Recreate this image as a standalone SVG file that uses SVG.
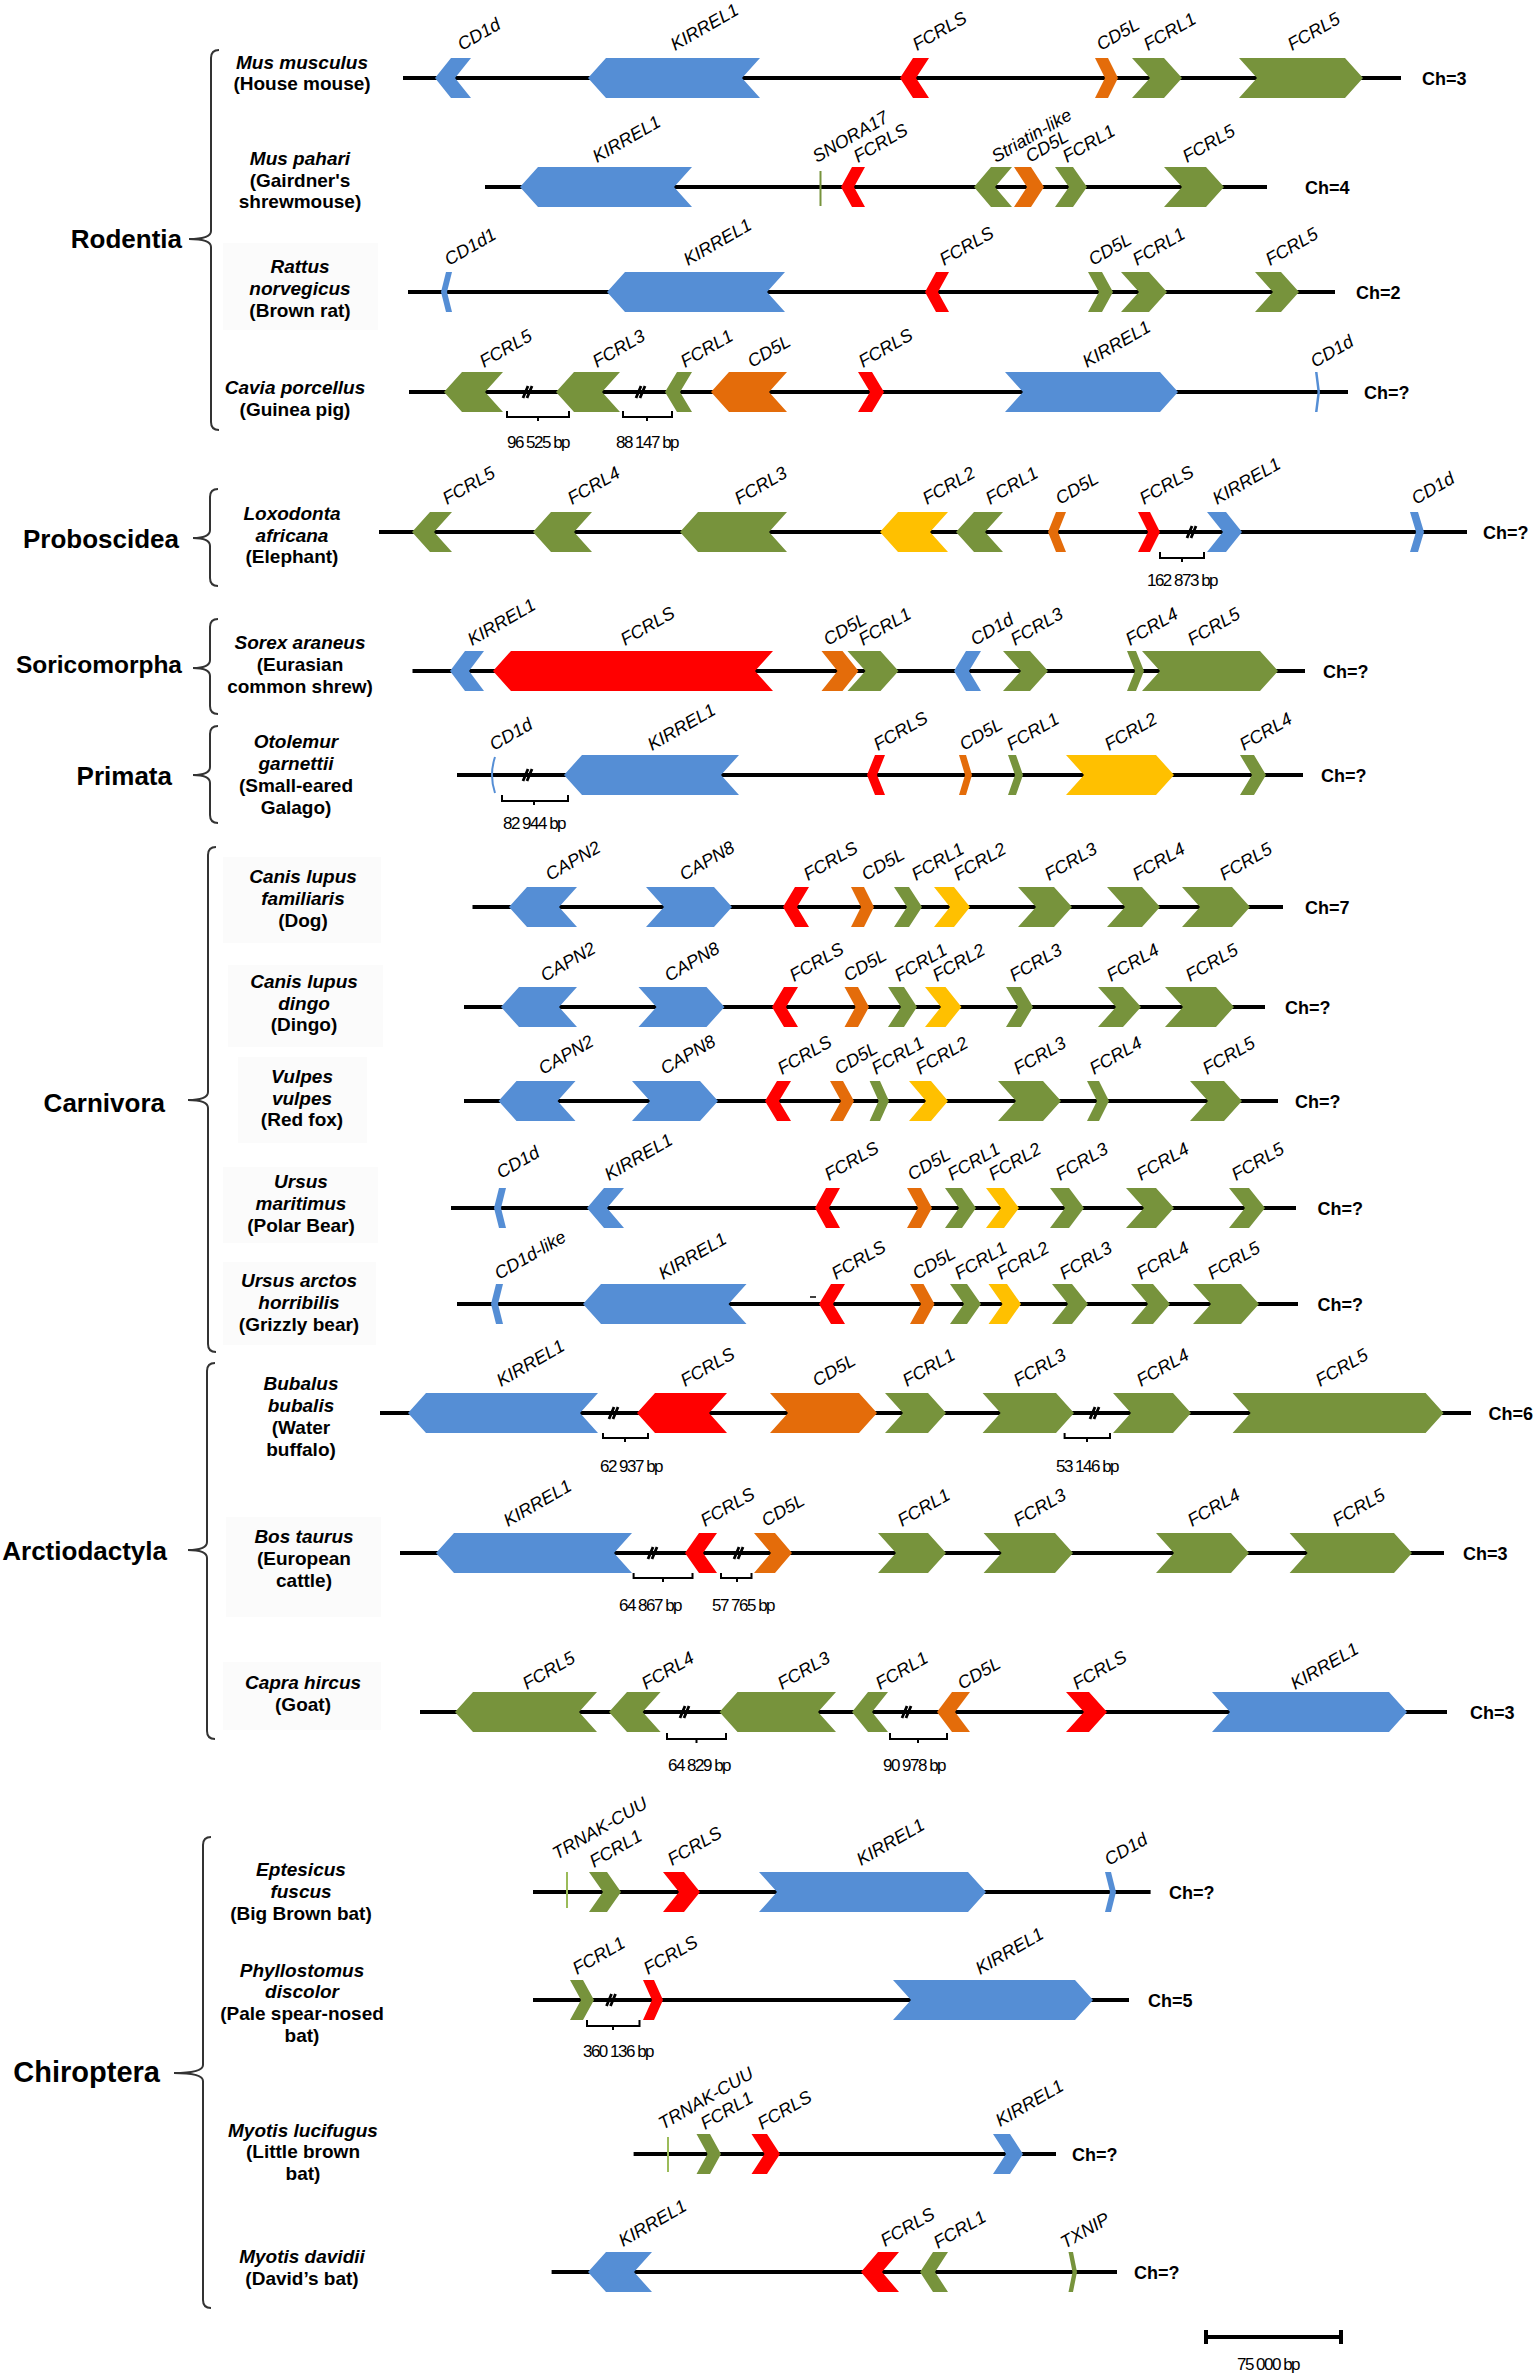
<svg xmlns="http://www.w3.org/2000/svg" width="1535" height="2373" viewBox="0 0 1535 2373">
<style>
.ln{stroke:#000;stroke-width:4;fill:none}
.b{fill:#558ED5}.r{fill:#FF0000}.g{fill:#77933C}.o{fill:#E46C0A}.y{fill:#FFC000}
.gl{font-family:'Liberation Sans',Arial,sans-serif;font-style:italic;font-size:18px;fill:#000}
.sp{font-family:'Liberation Sans',Arial,sans-serif;font-weight:bold;font-size:19px;text-anchor:middle;fill:#000}
.it{font-style:italic}
.ch{font-family:'Liberation Sans',Arial,sans-serif;font-weight:bold;font-size:18px;fill:#000}
.grp{font-family:'Liberation Sans',Arial,sans-serif;font-weight:bold;font-size:26px;text-anchor:end;fill:#000}
.bp{font-family:'Liberation Sans',Arial,sans-serif;font-size:17px;letter-spacing:-1.5px;text-anchor:middle;fill:#000}
.brk{fill:none;stroke:#000;stroke-width:2}
.brace{fill:none;stroke:#333;stroke-width:2}
.box{fill:#fbfbfb}
.thin{fill:none;stroke-width:2}
</style>
<defs>
<path id="slash" d="M-5 6L0-6M-1 6L4-6" fill="none" stroke="#000" stroke-width="2.8"/>
</defs>
<rect width="1535" height="2373" fill="#fff"/>

<g id="species-boxes">
<rect class="box" x="223" y="243" width="155" height="87"/>
<rect class="box" x="223" y="857" width="158" height="86"/>
<rect class="box" x="228" y="965" width="155" height="82"/>
<rect class="box" x="238" y="1057" width="129" height="86"/>
<rect class="box" x="223" y="1167" width="155" height="76"/>
<rect class="box" x="223" y="1262" width="153" height="83"/>
<rect class="box" x="226" y="1517" width="155" height="100"/>
<rect class="box" x="223" y="1662" width="158" height="68"/>
</g>

<g id="connectors">
<path class="ln" d="M403 78H1401M485 187H1267M408 292H1335M409 392H1348M379 532H1467M412.5 671H1305M457 775H1303M472.5 907H1283M464 1007H1265M464 1101H1278M451 1208H1296M457 1304H1298M380 1413H1471M400 1553H1444M420 1712H1447M533 1892H1150.6M533 2000H1129M633.6 2154H1056M551.6 2272H1117"/>
<use href="#slash" transform="translate(528 392)"/>
<use href="#slash" transform="translate(641 392)"/>
<use href="#slash" transform="translate(1192 532)"/>
<use href="#slash" transform="translate(528 775)"/>
<use href="#slash" transform="translate(614 1413)"/>
<use href="#slash" transform="translate(1095 1413)"/>
<use href="#slash" transform="translate(653 1553)"/>
<use href="#slash" transform="translate(739 1553)"/>
<use href="#slash" transform="translate(685 1712)"/>
<use href="#slash" transform="translate(907 1712)"/>
<use href="#slash" transform="translate(611.5 2000)"/>
<path class="brk" d="M507 411V417H569V411M538 417V421M623 411V417H672V411M647 417V421M1160 552V558H1204V552M1182 558V562M502 795V801H568V795M534 801V805M603 1433V1438H648V1433M625 1438V1442M1064.6 1433V1438H1110V1433M1087 1438V1442M633.6 1573V1578H692.5V1573M663 1578V1582M721 1573V1578H751.5V1573M737 1578V1582M667 1733V1739H726V1733M696.5 1739V1743M890 1733V1739H947V1733M918 1739V1743M587 2020V2026H639.5V2020M613 2026V2030"/>
<text class="bp" x="538" y="448">96 525 bp</text>
<text class="bp" x="647" y="448">88 147 bp</text>
<text class="bp" x="1182" y="586">162 873 bp</text>
<text class="bp" x="534" y="829">82 944 bp</text>
<text class="bp" x="631" y="1472">62 937 bp</text>
<text class="bp" x="1087" y="1472">53 146 bp</text>
<text class="bp" x="650" y="1611">64 867 bp</text>
<text class="bp" x="743" y="1611">57 765 bp</text>
<text class="bp" x="699" y="1771">64 829 bp</text>
<text class="bp" x="914" y="1771">90 978 bp</text>
<text class="bp" x="618" y="2057">360 136 bp</text>
</g>

<g id="groups">
<g id="grp-rodentia"><path class="brace" d="M219 50Q211 50 211 58V231Q211 239 189 239Q211 239 211 247V422Q211 430 219 430"/><text class="grp" x="182" y="248">Rodentia</text></g>
<g id="grp-proboscidea"><path class="brace" d="M218 489Q210 489 210 497V530Q210 538 193 538Q210 538 210 546V578Q210 586 218 586"/><text class="grp" x="179" y="548">Proboscidea</text></g>
<g id="grp-soricomorpha"><path class="brace" d="M218 619Q210 619 210 627V660Q210 668 193 668Q210 668 210 676V706Q210 714 218 714"/><text class="grp" x="182" y="673" style="font-size:24.5px">Soricomorpha</text></g>
<g id="grp-primata"><path class="brace" d="M218 726Q210 726 210 734V767Q210 775 193 775Q210 775 210 783V815Q210 823 218 823"/><text class="grp" x="172" y="785">Primata</text></g>
<g id="grp-carnivora"><path class="brace" d="M216 847Q208 847 208 855V1092Q208 1100 188 1100Q208 1100 208 1108V1344Q208 1352 216 1352"/><text class="grp" x="165" y="1112">Carnivora</text></g>
<g id="grp-arctiodactyla"><path class="brace" d="M215 1363Q207 1363 207 1371V1542Q207 1550 188 1550Q207 1550 207 1558V1731Q207 1739 215 1739"/><text class="grp" x="167" y="1560">Arctiodactyla</text></g>
<g id="grp-chiroptera"><path class="brace" d="M211 1837Q203 1837 203 1845V2065Q203 2073 174 2073Q203 2073 203 2081V2300Q203 2308 211 2308"/><text class="grp" x="160" y="2082" style="font-size:29px">Chiroptera</text></g>
</g>

<g id="row1">
<text class="sp" x="302"><tspan class="it" x="302" y="69">Mus musculus</tspan><tspan x="302" y="90">(House mouse)</tspan></text>
<g id="r1-cd1d"><path class="b" d="M435 78l16-20h20l-16 20l16 20h-20z"/><text class="gl" transform="translate(462 51) rotate(-30)">CD1d</text></g>
<g id="r1-kirrel1"><path class="b" d="M588 78l18-20h154l-18 20l18 20h-154z"/><text class="gl" transform="translate(675 51) rotate(-30)">KIRREL1</text></g>
<g id="r1-fcrls"><path class="r" d="M900 78l13-20h16l-13 20l13 20h-16z"/><text class="gl" transform="translate(917 51) rotate(-30)">FCRLS</text></g>
<g id="r1-cd5l"><path class="o" d="M1095 58h13l10 20l-10 20h-13l10-20z"/><text class="gl" transform="translate(1101 51) rotate(-30)">CD5L</text></g>
<g id="r1-fcrl1"><path class="g" d="M1132 58h32l18 20l-18 20h-32l18-20z"/><text class="gl" transform="translate(1148 51) rotate(-30)">FCRL1</text></g>
<g id="r1-fcrl5"><path class="g" d="M1239 58h106l18 20l-18 20h-106l18-20z"/><text class="gl" transform="translate(1292 51) rotate(-30)">FCRL5</text></g>
<text class="ch" x="1422" y="85">Ch=3</text>
</g>

<g id="row2">
<text class="sp"><tspan class="it" x="300" y="165">Mus pahari</tspan><tspan x="300" y="187">(Gairdner's</tspan><tspan x="300" y="208">shrewmouse)</tspan></text>
<g id="r2-kirrel1"><path class="b" d="M520 187l18-20h154l-18 20l18 20h-154z"/><text class="gl" transform="translate(597 163) rotate(-30)">KIRREL1</text></g>
<g id="r2-snora17"><path class="thin" stroke="#77933C" stroke-width="2.5" d="M820.5 171V206"/><text class="gl" transform="translate(817 163) rotate(-30)">SNORA17</text></g>
<g id="r2-fcrls"><path class="r" d="M841 187l11-20h13l-11 20l11 20h-13z"/><text class="gl" transform="translate(858 163) rotate(-30)">FCRLS</text></g>
<g id="r2-striatin"><path class="g" d="M974 187l17-20h21l-17 20l17 20h-21z"/><text class="gl" transform="translate(996 163) rotate(-30)">Striatin-like</text></g>
<g id="r2-cd5l"><path class="o" d="M1014 167h17l13 20l-13 20h-17l13-20z"/><text class="gl" transform="translate(1030 163) rotate(-30)">CD5L</text></g>
<g id="r2-fcrl1"><path class="g" d="M1055 167h18l14 20l-14 20h-18l14-20z"/><text class="gl" transform="translate(1067 163) rotate(-30)">FCRL1</text></g>
<g id="r2-fcrl5"><path class="g" d="M1164 167h42l18 20l-18 20h-42l18-20z"/><text class="gl" transform="translate(1187 163) rotate(-30)">FCRL5</text></g>
<text class="ch" x="1305" y="194">Ch=4</text>
</g>

<g id="row3">
<text class="sp"><tspan class="it" x="300" y="273">Rattus</tspan><tspan class="it" x="300" y="295">norvegicus</tspan><tspan x="300" y="317">(Brown rat)</tspan></text>
<g id="r3-cd1d1"><path class="b" d="M441 292l5-20h6l-5 20l5 20h-6z"/><text class="gl" transform="translate(449 266) rotate(-30)">CD1d1</text></g>
<g id="r3-kirrel1"><path class="b" d="M607 292l18-20h160l-18 20l18 20h-160z"/><text class="gl" transform="translate(688 266) rotate(-30)">KIRREL1</text></g>
<g id="r3-fcrls"><path class="r" d="M925 292l11-20h13l-11 20l11 20h-13z"/><text class="gl" transform="translate(944 266) rotate(-30)">FCRLS</text></g>
<g id="r3-cd5l"><path class="g" d="M1088 272h14l11 20l-11 20h-14l11-20z"/><text class="gl" transform="translate(1093 266) rotate(-30)">CD5L</text></g>
<g id="r3-fcrl1"><path class="g" d="M1121 272h28l18 20l-18 20h-28l18-20z"/><text class="gl" transform="translate(1137 266) rotate(-30)">FCRL1</text></g>
<g id="r3-fcrl5"><path class="g" d="M1255 272h26l18 20l-18 20h-26l18-20z"/><text class="gl" transform="translate(1270 266) rotate(-30)">FCRL5</text></g>
<text class="ch" x="1356" y="299">Ch=2</text>
</g>

<g id="row4">
<text class="sp"><tspan class="it" x="295" y="394">Cavia porcellus</tspan><tspan x="295" y="416">(Guinea pig)</tspan></text>
<g id="r4-fcrl5"><path class="g" d="M444 392l18-20h41l-18 20l18 20h-41z"/><text class="gl" transform="translate(484 368) rotate(-30)">FCRL5</text></g>
<g id="r4-fcrl3"><path class="g" d="M556 392l18-20h46l-18 20l18 20h-46z"/><text class="gl" transform="translate(597 368) rotate(-30)">FCRL3</text></g>
<g id="r4-fcrl1"><path class="g" d="M665 392l12-20h15l-12 20l12 20h-15z"/><text class="gl" transform="translate(685 368) rotate(-30)">FCRL1</text></g>
<g id="r4-cd5l"><path class="o" d="M711 392l18-20h58l-18 20l18 20h-58z"/><text class="gl" transform="translate(752 368) rotate(-30)">CD5L</text></g>
<g id="r4-fcrls"><path class="r" d="M858 372h14l12 20l-12 20h-14l12-20z"/><text class="gl" transform="translate(863 368) rotate(-30)">FCRLS</text></g>
<g id="r4-kirrel1"><path class="b" d="M1005 372h155l18 20l-18 20h-155l18-20z"/><text class="gl" transform="translate(1087 368) rotate(-30)">KIRREL1</text></g>
<g id="r4-cd1d"><path class="b" d="M1315 372h2.5l2.5 20l-2.5 20h-2.5l2.5-20z"/><text class="gl" transform="translate(1315 368) rotate(-30)">CD1d</text></g>
<text class="ch" x="1364" y="399">Ch=?</text>
</g>

<g id="row5">
<text class="sp"><tspan class="it" x="292" y="520">Loxodonta</tspan><tspan class="it" x="292" y="542">africana</tspan><tspan x="292" y="563">(Elephant)</tspan></text>
<g id="r5-fcrl5"><path class="g" d="M412 532l18-20h22l-18 20l18 20h-22z"/><text class="gl" transform="translate(447 505) rotate(-30)">FCRL5</text></g>
<g id="r5-fcrl4"><path class="g" d="M533 532l18-20h41l-18 20l18 20h-41z"/><text class="gl" transform="translate(572 505) rotate(-30)">FCRL4</text></g>
<g id="r5-fcrl3"><path class="g" d="M680 532l18-20h89l-18 20l18 20h-89z"/><text class="gl" transform="translate(739 505) rotate(-30)">FCRL3</text></g>
<g id="r5-fcrl2"><path class="y" d="M880 532l18-20h50l-18 20l18 20h-50z"/><text class="gl" transform="translate(927 505) rotate(-30)">FCRL2</text></g>
<g id="r5-fcrl1"><path class="g" d="M956 532l18-20h29l-18 20l18 20h-29z"/><text class="gl" transform="translate(990 505) rotate(-30)">FCRL1</text></g>
<g id="r5-cd5l"><path class="o" d="M1048 532l8-20h10l-8 20l8 20h-10z"/><text class="gl" transform="translate(1060 505) rotate(-30)">CD5L</text></g>
<g id="r5-fcrls"><path class="r" d="M1138 512h12l10 20l-10 20h-12l10-20z"/><text class="gl" transform="translate(1144 505) rotate(-30)">FCRLS</text></g>
<g id="r5-kirrel1"><path class="b" d="M1207 512h19l16 20l-16 20h-19l16-20z"/><text class="gl" transform="translate(1217 505) rotate(-30)">KIRREL1</text></g>
<g id="r5-cd1d"><path class="b" d="M1410 512h8l6 20l-6 20h-8l6-20z"/><text class="gl" transform="translate(1416 505) rotate(-30)">CD1d</text></g>
<text class="ch" x="1483" y="539">Ch=?</text>
</g>

<g id="row6">
<text class="sp"><tspan class="it" x="300" y="649">Sorex araneus</tspan><tspan x="300" y="671">(Eurasian</tspan><tspan x="300" y="693">common shrew)</tspan></text>
<g id="r6-kirrel1"><path class="b" d="M450 671l15-20h19l-15 20l15 20h-19z"/><text class="gl" transform="translate(472 646) rotate(-30)">KIRREL1</text></g>
<g id="r6-fcrls"><path class="r" d="M493 671l18-20h262l-18 20l18 20h-262z"/><text class="gl" transform="translate(625 646) rotate(-30)">FCRLS</text></g>
<g id="r6-fcrl1"><path class="g" d="M847.5 651h33l18 20l-18 20h-33l18-20z"/><text class="gl" transform="translate(863 646) rotate(-30)">FCRL1</text></g>
<g id="r6-cd5l"><path class="o" d="M821.5 651h21l16 20l-16 20h-21l16-20z"/><text class="gl" transform="translate(828 646) rotate(-30)">CD5L</text></g>
<g id="r6-cd1d"><path class="b" d="M954 671l12-20h15l-12 20l12 20h-15z"/><text class="gl" transform="translate(975 646) rotate(-30)">CD1d</text></g>
<g id="r6-fcrl3"><path class="g" d="M1003 651h27l18 20l-18 20h-27l18-20z"/><text class="gl" transform="translate(1015 646) rotate(-30)">FCRL3</text></g>
<g id="r6-fcrl4"><path class="g" d="M1127 651h9l8 20l-8 20h-9l8-20z"/><text class="gl" transform="translate(1130 646) rotate(-30)">FCRL4</text></g>
<g id="r6-fcrl5"><path class="g" d="M1142 651h118l18 20l-18 20h-118l18-20z"/><text class="gl" transform="translate(1192 646) rotate(-30)">FCRL5</text></g>
<text class="ch" x="1323" y="678">Ch=?</text>
</g>

<g id="row7">
<text class="sp"><tspan class="it" x="296" y="748">Otolemur</tspan><tspan class="it" x="296" y="770">garnettii</tspan><tspan x="296" y="792">(Small-eared</tspan><tspan x="296" y="814">Galago)</tspan></text>
<g id="r7-cd1d"><path class="thin" stroke="#558ED5" d="M495 757Q489 775 495 793"/><text class="gl" transform="translate(494 751) rotate(-30)">CD1d</text></g>
<g id="r7-kirrel1"><path class="b" d="M564 775l18-20h157l-18 20l18 20h-157z"/><text class="gl" transform="translate(652 751) rotate(-30)">KIRREL1</text></g>
<g id="r7-fcrls"><path class="r" d="M867 775l8-20h10l-8 20l8 20h-10z"/><text class="gl" transform="translate(878 751) rotate(-30)">FCRLS</text></g>
<g id="r7-cd5l"><path class="o" d="M959 755h7l6 20l-6 20h-7l6-20z"/><text class="gl" transform="translate(964 751) rotate(-30)">CD5L</text></g>
<g id="r7-fcrl1"><path class="g" d="M1008 755h8l7 20l-7 20h-8l7-20z"/><text class="gl" transform="translate(1011 751) rotate(-30)">FCRL1</text></g>
<g id="r7-fcrl2"><path class="y" d="M1066 755h90l18 20l-18 20h-90l18-20z"/><text class="gl" transform="translate(1109 751) rotate(-30)">FCRL2</text></g>
<g id="r7-fcrl4"><path class="g" d="M1240 755h14l12 20l-12 20h-14l12-20z"/><text class="gl" transform="translate(1244 751) rotate(-30)">FCRL4</text></g>
<text class="ch" x="1321" y="782">Ch=?</text>
</g>

<g id="row8">
<text class="sp"><tspan class="it" x="303" y="883">Canis lupus</tspan><tspan class="it" x="303" y="905">familiaris</tspan><tspan x="303" y="927">(Dog)</tspan></text>
<g id="r8-capn2"><path class="b" d="M509 907l18-20h50l-18 20l18 20h-50z"/><text class="gl" transform="translate(550 881) rotate(-30)">CAPN2</text></g>
<g id="r8-capn8"><path class="b" d="M646 887h68l18 20l-18 20h-68l18-20z"/><text class="gl" transform="translate(684 881) rotate(-30)">CAPN8</text></g>
<g id="r8-fcrls"><path class="r" d="M783 907l12-20h14l-12 20l12 20h-14z"/><text class="gl" transform="translate(808 881) rotate(-30)">FCRLS</text></g>
<g id="r8-cd5l"><path class="o" d="M851 887h13l10 20l-10 20h-13l10-20z"/><text class="gl" transform="translate(866 881) rotate(-30)">CD5L</text></g>
<g id="r8-fcrl1"><path class="g" d="M894 887h15l13 20l-13 20h-15l13-20z"/><text class="gl" transform="translate(916 881) rotate(-30)">FCRL1</text></g>
<g id="r8-fcrl2"><path class="y" d="M934 887h20l16 20l-16 20h-20l16-20z"/><text class="gl" transform="translate(958 881) rotate(-30)">FCRL2</text></g>
<g id="r8-fcrl3"><path class="g" d="M1018 887h36l18 20l-18 20h-36l18-20z"/><text class="gl" transform="translate(1049 881) rotate(-30)">FCRL3</text></g>
<g id="r8-fcrl4"><path class="g" d="M1107 887h35l18 20l-18 20h-35l18-20z"/><text class="gl" transform="translate(1137 881) rotate(-30)">FCRL4</text></g>
<g id="r8-fcrl5"><path class="g" d="M1182 887h50l18 20l-18 20h-50l18-20z"/><text class="gl" transform="translate(1224 881) rotate(-30)">FCRL5</text></g>
<text class="ch" x="1305" y="914">Ch=7</text>
</g>

<g id="row9">
<text class="sp"><tspan class="it" x="304" y="988">Canis lupus</tspan><tspan class="it" x="304" y="1010">dingo</tspan><tspan x="304" y="1031">(Dingo)</tspan></text>
<g id="r9-capn2"><path class="b" d="M501 1007l18-20h58l-18 20l18 20h-58z"/><text class="gl" transform="translate(545 982) rotate(-30)">CAPN2</text></g>
<g id="r9-capn8"><path class="b" d="M638.5 987h68l18 20l-18 20h-68l18-20z"/><text class="gl" transform="translate(669 982) rotate(-30)">CAPN8</text></g>
<g id="r9-fcrls"><path class="r" d="M772 1007l12-20h14l-12 20l12 20h-14z"/><text class="gl" transform="translate(794 982) rotate(-30)">FCRLS</text></g>
<g id="r9-cd5l"><path class="o" d="M844.5 987h13.5l11 20l-11 20h-13.5l11-20z"/><text class="gl" transform="translate(848 982) rotate(-30)">CD5L</text></g>
<g id="r9-fcrl1"><path class="g" d="M888 987h16l13 20l-13 20h-16l13-20z"/><text class="gl" transform="translate(899 982) rotate(-30)">FCRL1</text></g>
<g id="r9-fcrl2"><path class="y" d="M925 987h20.5l16 20l-16 20h-20.5l16-20z"/><text class="gl" transform="translate(937 982) rotate(-30)">FCRL2</text></g>
<g id="r9-fcrl3"><path class="g" d="M1006 987h15l12 20l-12 20h-15l12-20z"/><text class="gl" transform="translate(1014 982) rotate(-30)">FCRL3</text></g>
<g id="r9-fcrl4"><path class="g" d="M1098 987h25l18 20l-18 20h-25l18-20z"/><text class="gl" transform="translate(1111 982) rotate(-30)">FCRL4</text></g>
<g id="r9-fcrl5"><path class="g" d="M1165 987h51l18 20l-18 20h-51l18-20z"/><text class="gl" transform="translate(1190 982) rotate(-30)">FCRL5</text></g>
<text class="ch" x="1285" y="1014">Ch=?</text>
</g>

<g id="row10">
<text class="sp"><tspan class="it" x="302" y="1083">Vulpes</tspan><tspan class="it" x="302" y="1105">vulpes</tspan><tspan x="302" y="1126">(Red fox)</tspan></text>
<g id="r10-capn2"><path class="b" d="M498.5 1101l18-20h59l-18 20l18 20h-59z"/><text class="gl" transform="translate(543 1075) rotate(-30)">CAPN2</text></g>
<g id="r10-capn8"><path class="b" d="M632 1081h68l18 20l-18 20h-68l18-20z"/><text class="gl" transform="translate(665 1075) rotate(-30)">CAPN8</text></g>
<g id="r10-fcrls"><path class="r" d="M765 1101l12-20h14l-12 20l12 20h-14z"/><text class="gl" transform="translate(782 1075) rotate(-30)">FCRLS</text></g>
<g id="r10-cd5l"><path class="o" d="M830 1081h13l11 20l-11 20h-13l11-20z"/><text class="gl" transform="translate(839 1075) rotate(-30)">CD5L</text></g>
<g id="r10-fcrl1"><path class="g" d="M869.6 1081h10.4l9 20l-9 20h-10.4l9-20z"/><text class="gl" transform="translate(876 1075) rotate(-30)">FCRL1</text></g>
<g id="r10-fcrl2"><path class="y" d="M909 1081h22l17 20l-17 20h-22l17-20z"/><text class="gl" transform="translate(920 1075) rotate(-30)">FCRL2</text></g>
<g id="r10-fcrl3"><path class="g" d="M998 1081h45l18 20l-18 20h-45l18-20z"/><text class="gl" transform="translate(1018 1075) rotate(-30)">FCRL3</text></g>
<g id="r10-fcrl4"><path class="g" d="M1087 1081h12l10 20l-10 20h-12l10-20z"/><text class="gl" transform="translate(1094 1075) rotate(-30)">FCRL4</text></g>
<g id="r10-fcrl5"><path class="g" d="M1190 1081h34l18 20l-18 20h-34l18-20z"/><text class="gl" transform="translate(1207 1075) rotate(-30)">FCRL5</text></g>
<text class="ch" x="1295" y="1108">Ch=?</text>
</g>

<g id="row11">
<text class="sp"><tspan class="it" x="301" y="1188">Ursus</tspan><tspan class="it" x="301" y="1210">maritimus</tspan><tspan x="301" y="1232">(Polar Bear)</tspan></text>
<g id="r11-cd1d"><path class="b" d="M494 1208l5-20h7l-5 20l5 20h-7z"/><text class="gl" transform="translate(501 1179) rotate(-30)">CD1d</text></g>
<g id="r11-kirrel1"><path class="b" d="M587 1208l17-20h20l-17 20l17 20h-20z"/><text class="gl" transform="translate(609 1181) rotate(-30)">KIRREL1</text></g>
<g id="r11-fcrls"><path class="r" d="M815 1208l11-20h14l-11 20l11 20h-14z"/><text class="gl" transform="translate(829 1181) rotate(-30)">FCRLS</text></g>
<g id="r11-cd5l"><path class="o" d="M907 1188h14l11 20l-11 20h-14l11-20z"/><text class="gl" transform="translate(912 1181) rotate(-30)">CD5L</text></g>
<g id="r11-fcrl1"><path class="g" d="M945 1188h17l14 20l-14 20h-17l14-20z"/><text class="gl" transform="translate(952 1181) rotate(-30)">FCRL1</text></g>
<g id="r11-fcrl2"><path class="y" d="M986 1188h18l15 20l-15 20h-18l15-20z"/><text class="gl" transform="translate(993 1181) rotate(-30)">FCRL2</text></g>
<g id="r11-fcrl3"><path class="g" d="M1050 1188h19l15 20l-15 20h-19l15-20z"/><text class="gl" transform="translate(1060 1181) rotate(-30)">FCRL3</text></g>
<g id="r11-fcrl4"><path class="g" d="M1126 1188h30l18 20l-18 20h-30l18-20z"/><text class="gl" transform="translate(1141 1181) rotate(-30)">FCRL4</text></g>
<g id="r11-fcrl5"><path class="g" d="M1229 1188h20l16 20l-16 20h-20l16-20z"/><text class="gl" transform="translate(1236 1181) rotate(-30)">FCRL5</text></g>
<text class="ch" x="1317.5" y="1215">Ch=?</text>
</g>

<g id="row12">
<text class="sp"><tspan class="it" x="299" y="1287">Ursus arctos</tspan><tspan class="it" x="299" y="1309">horribilis</tspan><tspan x="299" y="1331">(Grizzly bear)</tspan></text>
<g id="r12-cd1dlike"><path class="b" d="M491 1304l5-20h7l-5 20l5 20h-7z"/><text class="gl" transform="translate(499 1280) rotate(-30)">CD1d-like</text></g>
<g id="r12-kirrel1"><path class="b" d="M583 1304l18-20h145.5l-18 20l18 20h-145.5z"/><text class="gl" transform="translate(663 1280) rotate(-30)">KIRREL1</text></g>
<g id="r12-fcrls"><path d="M810 1297h6" stroke="#000" stroke-width="1.5"/><path class="r" d="M819 1304l12-20h14l-12 20l12 20h-14z"/><text class="gl" transform="translate(836 1280) rotate(-30)">FCRLS</text></g>
<g id="r12-cd5l"><path class="o" d="M910 1284h13.5l11 20l-11 20h-13.5l11-20z"/><text class="gl" transform="translate(917 1280) rotate(-30)">CD5L</text></g>
<g id="r12-fcrl1"><path class="g" d="M950 1284h17l14 20l-14 20h-17l14-20z"/><text class="gl" transform="translate(959 1280) rotate(-30)">FCRL1</text></g>
<g id="r12-fcrl2"><path class="y" d="M988.5 1284h18.5l14 20l-14 20h-18.5l14-20z"/><text class="gl" transform="translate(1001 1280) rotate(-30)">FCRL2</text></g>
<g id="r12-fcrl3"><path class="g" d="M1052 1284h20l16 20l-16 20h-20l16-20z"/><text class="gl" transform="translate(1064 1280) rotate(-30)">FCRL3</text></g>
<g id="r12-fcrl4"><path class="g" d="M1131 1284h22l17 20l-17 20h-22l17-20z"/><text class="gl" transform="translate(1141 1280) rotate(-30)">FCRL4</text></g>
<g id="r12-fcrl5"><path class="g" d="M1193 1284h48l18 20l-18 20h-48l18-20z"/><text class="gl" transform="translate(1212 1280) rotate(-30)">FCRL5</text></g>
<text class="ch" x="1317.5" y="1311">Ch=?</text>
</g>

<g id="row13">
<text class="sp"><tspan class="it" x="301" y="1390">Bubalus</tspan><tspan class="it" x="301" y="1412">bubalis</tspan><tspan x="301" y="1434">(Water</tspan><tspan x="301" y="1456">buffalo)</tspan></text>
<g id="r13-kirrel1"><path class="b" d="M408 1413l18-20h172l-18 20l18 20h-172z"/><text class="gl" transform="translate(501 1387) rotate(-30)">KIRREL1</text></g>
<g id="r13-fcrls"><path class="r" d="M637 1413l18-20h72l-18 20l18 20h-72z"/><text class="gl" transform="translate(685 1387) rotate(-30)">FCRLS</text></g>
<g id="r13-cd5l"><path class="o" d="M770 1393h89l18 20l-18 20h-89l18-20z"/><text class="gl" transform="translate(817 1387) rotate(-30)">CD5L</text></g>
<g id="r13-fcrl1"><path class="g" d="M885 1393h43l18 20l-18 20h-43l18-20z"/><text class="gl" transform="translate(907 1387) rotate(-30)">FCRL1</text></g>
<g id="r13-fcrl3"><path class="g" d="M982.6 1393h73.4l18 20l-18 20h-73.4l18-20z"/><text class="gl" transform="translate(1018 1387) rotate(-30)">FCRL3</text></g>
<g id="r13-fcrl4"><path class="g" d="M1113 1393h60l18 20l-18 20h-60l18-20z"/><text class="gl" transform="translate(1141 1387) rotate(-30)">FCRL4</text></g>
<g id="r13-fcrl5"><path class="g" d="M1232.6 1393h193l18 20l-18 20h-193l18-20z"/><text class="gl" transform="translate(1320 1387) rotate(-30)">FCRL5</text></g>
<text class="ch" x="1488.5" y="1420">Ch=6</text>
</g>

<g id="row14">
<text class="sp"><tspan class="it" x="304" y="1543">Bos taurus</tspan><tspan x="304" y="1565">(European</tspan><tspan x="304" y="1587">cattle)</tspan></text>
<g id="r14-kirrel1"><path class="b" d="M436 1553l18-20h178l-18 20l18 20h-178z"/><text class="gl" transform="translate(508 1527) rotate(-30)">KIRREL1</text></g>
<g id="r14-fcrls"><path class="r" d="M685 1553l14-20h18l-14 20l14 20h-18z"/><text class="gl" transform="translate(705 1527) rotate(-30)">FCRLS</text></g>
<g id="r14-cd5l"><path class="o" d="M754 1533h21l17 20l-17 20h-21l17-20z"/><text class="gl" transform="translate(766 1527) rotate(-30)">CD5L</text></g>
<g id="r14-fcrl1"><path class="g" d="M878 1533h50l18 20l-18 20h-50l18-20z"/><text class="gl" transform="translate(902 1527) rotate(-30)">FCRL1</text></g>
<g id="r14-fcrl3"><path class="g" d="M983.6 1533h71.4l18 20l-18 20h-71.4l18-20z"/><text class="gl" transform="translate(1018 1527) rotate(-30)">FCRL3</text></g>
<g id="r14-fcrl4"><path class="g" d="M1156 1533h75l18 20l-18 20h-75l18-20z"/><text class="gl" transform="translate(1192 1527) rotate(-30)">FCRL4</text></g>
<g id="r14-fcrl5"><path class="g" d="M1289.6 1533h104.4l18 20l-18 20h-104.4l18-20z"/><text class="gl" transform="translate(1337 1527) rotate(-30)">FCRL5</text></g>
<text class="ch" x="1463" y="1560">Ch=3</text>
</g>

<g id="row15">
<text class="sp"><tspan class="it" x="303" y="1689">Capra hircus</tspan><tspan x="303" y="1711">(Goat)</tspan></text>
<g id="r15-fcrl5"><path class="g" d="M455 1712l18-20h124l-18 20l18 20h-124z"/><text class="gl" transform="translate(527 1690) rotate(-30)">FCRL5</text></g>
<g id="r15-fcrl4"><path class="g" d="M609 1712l18-20h33.6l-18 20l18 20h-33.6z"/><text class="gl" transform="translate(646 1690) rotate(-30)">FCRL4</text></g>
<g id="r15-fcrl3"><path class="g" d="M719.5 1712l18-20h98.5l-18 20l18 20h-98.5z"/><text class="gl" transform="translate(782 1690) rotate(-30)">FCRL3</text></g>
<g id="r15-fcrl1"><path class="g" d="M852 1712l16-20h20l-16 20l16 20h-20z"/><text class="gl" transform="translate(880 1690) rotate(-30)">FCRL1</text></g>
<g id="r15-cd5l"><path class="o" d="M937 1712l15-20h18l-15 20l15 20h-18z"/><text class="gl" transform="translate(962 1690) rotate(-30)">CD5L</text></g>
<g id="r15-fcrls"><path class="r" d="M1066 1692h23l18 20l-18 20h-23l18-20z"/><text class="gl" transform="translate(1077 1690) rotate(-30)">FCRLS</text></g>
<g id="r15-kirrel1"><path class="b" d="M1212 1692h177l18 20l-18 20h-177l18-20z"/><text class="gl" transform="translate(1295 1690) rotate(-30)">KIRREL1</text></g>
<text class="ch" x="1470" y="1719">Ch=3</text>
</g>

<g id="row16">
<text class="sp"><tspan class="it" x="301" y="1876">Eptesicus</tspan><tspan class="it" x="301" y="1898">fuscus</tspan><tspan x="301" y="1920">(Big Brown bat)</tspan></text>
<g id="r16-trnak"><path class="thin" stroke="#9BBB59" stroke-width="1.5" d="M567 1872V1908"/><text class="gl" transform="translate(557 1860) rotate(-30)">TRNAK-CUU</text></g>
<g id="r16-fcrl1"><path class="g" d="M589 1872h18l14 20l-14 20h-18l14-20z"/><text class="gl" transform="translate(594 1868) rotate(-30)">FCRL1</text></g>
<g id="r16-fcrls"><path class="r" d="M663 1872h21l16 20l-16 20h-21l16-20z"/><text class="gl" transform="translate(672 1866) rotate(-30)">FCRLS</text></g>
<g id="r16-kirrel1"><path class="b" d="M759 1872h209l18 20l-18 20h-209l18-20z"/><text class="gl" transform="translate(861 1866) rotate(-30)">KIRREL1</text></g>
<g id="r16-cd1d"><path class="b" d="M1105 1872h6l5 20l-5 20h-6l5-20z"/><text class="gl" transform="translate(1109 1866) rotate(-30)">CD1d</text></g>
<text class="ch" x="1169" y="1899">Ch=?</text>
</g>

<g id="row17">
<text class="sp"><tspan class="it" x="302" y="1977">Phyllostomus</tspan><tspan class="it" x="302" y="1998">discolor</tspan><tspan x="302" y="2020">(Pale spear-nosed</tspan><tspan x="302" y="2042">bat)</tspan></text>
<g id="r17-fcrl1"><path class="g" d="M570 1980h13l11 20l-11 20h-13l11-20z"/><text class="gl" transform="translate(577 1975) rotate(-30)">FCRL1</text></g>
<g id="r17-fcrls"><path class="r" d="M643 1980h11l9 20l-9 20h-11l9-20z"/><text class="gl" transform="translate(648 1975) rotate(-30)">FCRLS</text></g>
<g id="r17-kirrel1"><path class="b" d="M893 1980h182l18 20l-18 20h-182l18-20z"/><text class="gl" transform="translate(980 1975) rotate(-30)">KIRREL1</text></g>
<text class="ch" x="1148" y="2007">Ch=5</text>
</g>

<g id="row18">
<text class="sp"><tspan class="it" x="303" y="2137">Myotis lucifugus</tspan><tspan x="303" y="2158">(Little brown</tspan><tspan x="303" y="2180">bat)</tspan></text>
<g id="r18-trnak"><path class="thin" stroke="#9BBB59" stroke-width="1.5" d="M668 2137V2172"/><text class="gl" transform="translate(663 2130) rotate(-30)">TRNAK-CUU</text></g>
<g id="r18-fcrl1"><path class="g" d="M696.5 2134h13.5l11 20l-11 20h-13.5l11-20z"/><text class="gl" transform="translate(705 2130) rotate(-30)">FCRL1</text></g>
<g id="r18-fcrls"><path class="r" d="M751.5 2134h15.5l13 20l-13 20h-15.5l13-20z"/><text class="gl" transform="translate(762 2130) rotate(-30)">FCRLS</text></g>
<g id="r18-kirrel1"><path class="b" d="M993 2134h17l13 20l-13 20h-17l13-20z"/><text class="gl" transform="translate(1000 2127) rotate(-30)">KIRREL1</text></g>
<text class="ch" x="1072" y="2161">Ch=?</text>
</g>

<g id="row19">
<text class="sp"><tspan class="it" x="302" y="2263">Myotis davidii</tspan><tspan x="302" y="2285">(David’s bat)</tspan></text>
<g id="r19-kirrel1"><path class="b" d="M588 2272l18-20h46l-18 20l18 20h-46z"/><text class="gl" transform="translate(623 2247) rotate(-30)">KIRREL1</text></g>
<g id="r19-fcrls"><path class="r" d="M861 2272l17-20h21l-17 20l17 20h-21z"/><text class="gl" transform="translate(885 2247) rotate(-30)">FCRLS</text></g>
<g id="r19-fcrl1"><path class="g" d="M920 2272l13-20h15l-13 20l13 20h-15z"/><text class="gl" transform="translate(938 2249) rotate(-30)">FCRL1</text></g>
<g id="r19-txnip"><path class="g" d="M1068.5 2252h4.5l4 20l-4 20h-4.5l4-20z"/><text class="gl" transform="translate(1065 2249) rotate(-30)">TXNIP</text></g>
<text class="ch" x="1134" y="2279">Ch=?</text>
</g>

<g id="scale-bar">
<path d="M1206 2337H1341M1206 2330V2344M1341 2330V2344" stroke="#000" stroke-width="4" fill="none"/>
<text class="bp" x="1268" y="2370">75 000 bp</text>
</g>
</svg>
